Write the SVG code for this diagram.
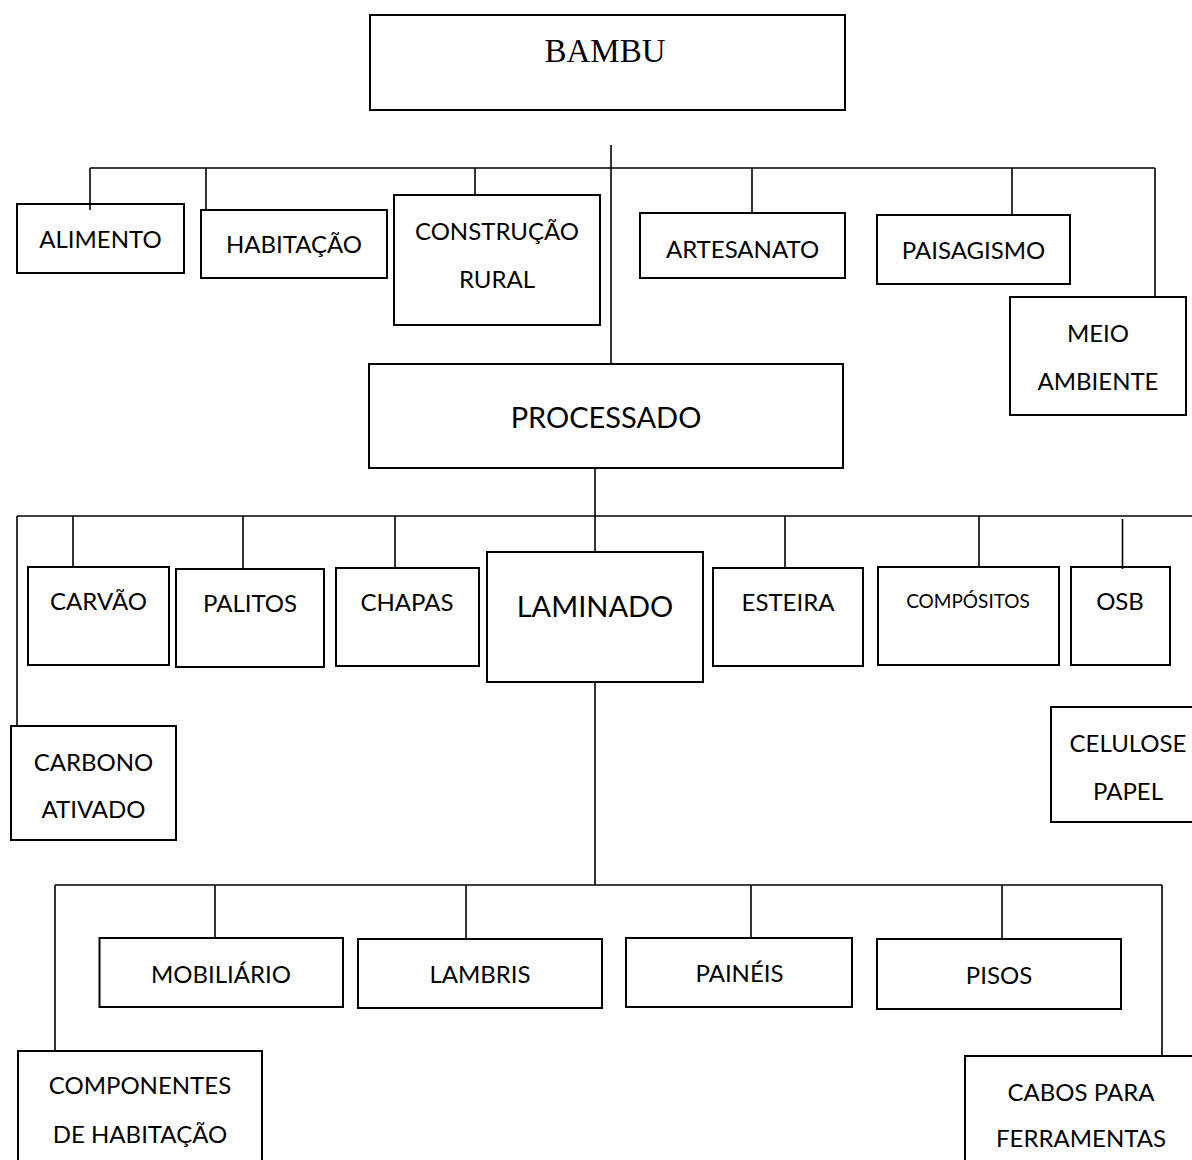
<svg xmlns="http://www.w3.org/2000/svg" width="1192" height="1160" viewBox="0 0 1192 1160">
<style>
.box{fill:#fff;stroke:#000;stroke-width:2}
.ln{stroke:#000;stroke-width:1.6;fill:none}
.t{font-family:Lato,"Liberation Sans",sans-serif;font-size:24px;text-anchor:middle;fill:#000}
.big{font-size:29px}
.sm{font-size:19px}
.serif{font-family:"Liberation Serif",serif;font-size:33px;text-anchor:middle;fill:#000}
</style>
<rect width="1192" height="1160" fill="#fff"/>
<g id="nodes">
<g id="bambu"><rect class="box" x="370" y="15" width="475" height="95"/><text class="serif" x="605" y="62">BAMBU</text></g>
<g id="alimento"><rect class="box" x="17" y="204" width="167" height="69"/><text class="t" x="100.5" y="248">ALIMENTO</text></g>
<g id="habitacao"><rect class="box" x="201" y="210" width="186" height="68"/><text class="t" x="294" y="253">HABITAÇÃO</text></g>
<g id="construcao"><rect class="box" x="394" y="195" width="206" height="130"/><text class="t" x="497" y="240">CONSTRUÇÃO</text><text class="t" x="497" y="288">RURAL</text></g>
<g id="artesanato"><rect class="box" x="640" y="213" width="205" height="65"/><text class="t" x="742.5" y="258">ARTESANATO</text></g>
<g id="paisagismo"><rect class="box" x="877" y="215" width="193" height="69"/><text class="t" x="973.5" y="259">PAISAGISMO</text></g>
<g id="meio"><rect class="box" x="1010" y="297" width="176" height="118"/><text class="t" x="1098" y="342">MEIO</text><text class="t" x="1098" y="390">AMBIENTE</text></g>
<g id="processado"><rect class="box" x="369" y="364" width="474" height="104"/><text class="t big" x="606" y="428">PROCESSADO</text></g>
<g id="carvao"><rect class="box" x="28" y="567" width="141" height="98"/><text class="t" x="98.5" y="610">CARVÃO</text></g>
<g id="palitos"><rect class="box" x="176" y="569" width="148" height="98"/><text class="t" x="250" y="612">PALITOS</text></g>
<g id="chapas"><rect class="box" x="336" y="568" width="143" height="98"/><text class="t" x="407" y="611">CHAPAS</text></g>
<g id="laminado"><rect class="box" x="487" y="552" width="216" height="130"/><text class="t big" x="595" y="617">LAMINADO</text></g>
<g id="esteira"><rect class="box" x="713" y="568" width="150" height="98"/><text class="t" x="788" y="611">ESTEIRA</text></g>
<g id="compositos"><rect class="box" x="878" y="567" width="181" height="98"/><text class="t sm" x="968" y="608">COMPÓSITOS</text></g>
<g id="osb"><rect class="box" x="1071" y="567" width="99" height="98"/><text class="t" x="1120" y="610">OSB</text></g>
<g id="celulose"><rect class="box" x="1051" y="707" width="160" height="115"/><text class="t" x="1128" y="752">CELULOSE</text><text class="t" x="1128" y="800">PAPEL</text></g>
<g id="carbono"><rect class="box" x="11" y="726" width="165" height="114"/><text class="t" x="93.5" y="771">CARBONO</text><text class="t" x="93.5" y="818">ATIVADO</text></g>
<g id="mobiliario"><rect class="box" x="99.5" y="938" width="243.5" height="69"/><text class="t" x="221" y="983">MOBILIÁRIO</text></g>
<g id="lambris"><rect class="box" x="358" y="939" width="244" height="69"/><text class="t" x="480" y="983">LAMBRIS</text></g>
<g id="paineis"><rect class="box" x="626" y="938" width="226" height="69"/><text class="t" x="739.5" y="982">PAINÉIS</text></g>
<g id="pisos"><rect class="box" x="877" y="939" width="244" height="70"/><text class="t" x="999" y="984">PISOS</text></g>
<g id="componentes"><rect class="box" x="18" y="1051" width="244" height="130"/><text class="t" x="140" y="1094">COMPONENTES</text><text class="t" x="140" y="1143">DE HABITAÇÃO</text></g>
<g id="cabos"><rect class="box" x="965" y="1056" width="240" height="130"/><text class="t" x="1081" y="1101">CABOS PARA</text><text class="t" x="1081" y="1147">FERRAMENTAS</text></g>
</g>
<g id="connectors" class="ln">
<path d="M611,145 V364"/>
<path d="M90,168 H1155"/>
<path d="M90,168 V210 M206,168 V210 M475,168 V195 M752,168 V213 M1012,168 V215 M1155,168 V297"/>
<path d="M595,468 V552"/>
<path d="M17,516 H1192"/>
<path d="M17,516 V726 M73,516 V567 M243,516 V569 M395,516 V568 M785,516 V568 M979,516 V567 M1122.5,519 V569"/>
<path d="M595,682 V885"/>
<path d="M55,885 H1162"/>
<path d="M55,885 V1051 M215,885 V938 M466,885 V939 M751,885 V938 M1002,885 V939 M1162,885 V1056"/>
</g>
</svg>
